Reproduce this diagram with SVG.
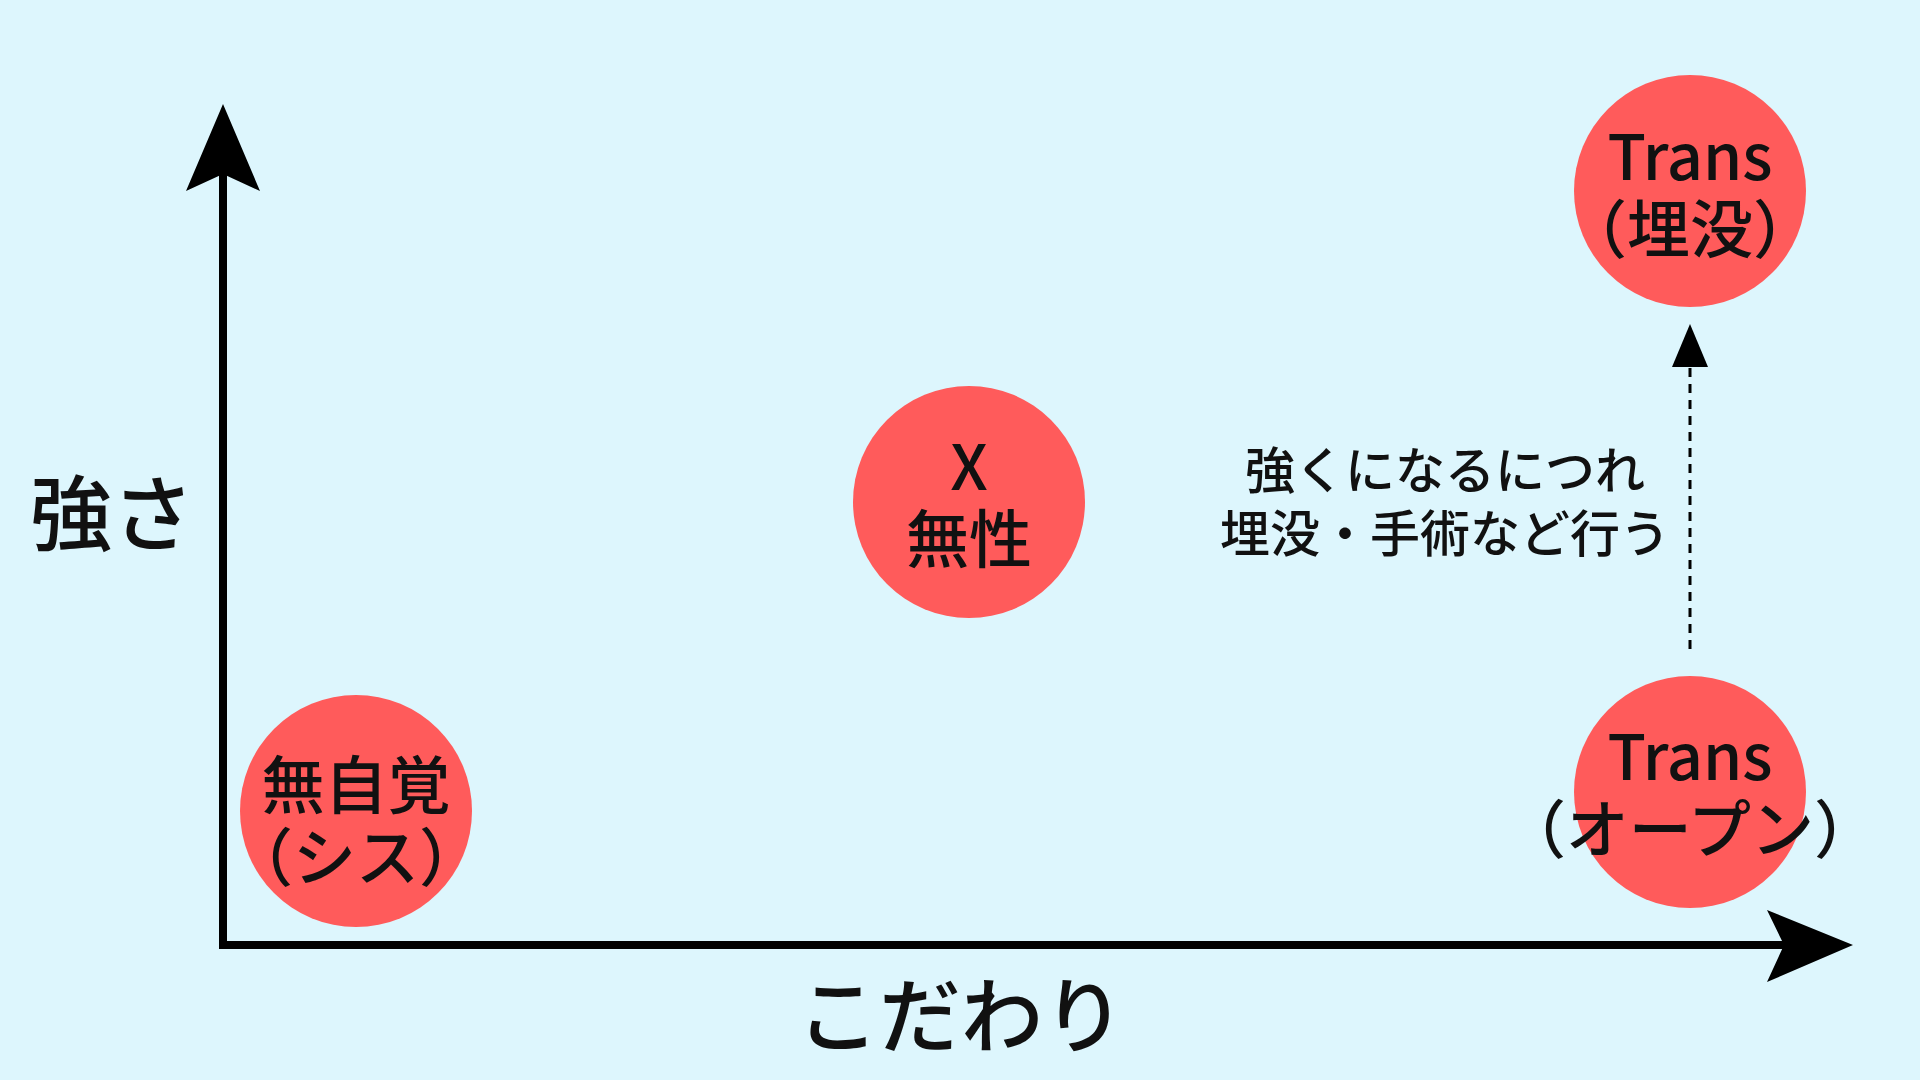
<svg xmlns="http://www.w3.org/2000/svg" width="1920" height="1080" viewBox="0 0 1920 1080">
<style>
.n{fill:#FF5B5B}
.t{font-family:"Noto Sans CJK JP","Noto Sans",sans-serif;font-weight:500;fill:#111;text-anchor:middle;dominant-baseline:central}
.lab{font-size:63px}
.ax{font-size:82px}
.note{font-size:50px}
</style>
<rect width="1920" height="1080" fill="#DDF6FD"/>
<g id="connectors">
<line x1="223" y1="947" x2="223" y2="170" stroke="#000" stroke-width="8"/>
<polygon points="223,104 186,191 223,174 260,191" fill="#000"/>
<line x1="219" y1="945" x2="1790" y2="945" stroke="#000" stroke-width="8"/>
<polygon points="1853,945 1767,910 1784,945 1767,982" fill="#000"/>
<line x1="1690" y1="649" x2="1690" y2="362" stroke="#000" stroke-width="3" stroke-dasharray="9,7"/>
<polygon points="1690,324 1672,367 1708,367" fill="#000"/>
</g>
<g id="n1"><circle class="n" cx="356" cy="811" r="116"/>
<text class="t lab" x="356" y="780">無自覚</text><text class="t lab" x="356" y="852">（シス）</text></g>
<g id="n2"><circle class="n" cx="969" cy="502" r="116"/>
<text class="t lab" x="969" y="462">X</text><text class="t lab" x="969" y="534">無性</text></g>
<g id="n3"><circle class="n" cx="1690" cy="191" r="116"/>
<text class="t lab" x="1690" y="152">Trans</text><text class="t lab" x="1690" y="224">（埋没）</text></g>
<g id="n4"><circle class="n" cx="1690" cy="792" r="116"/>
<text class="t lab" x="1690" y="752">Trans</text><text class="t lab" x="1690" y="824">（オープン）</text></g>
<text class="t ax" x="112" y="508">強さ</text>
<text class="t ax" x="961" y="1010">こだわり</text>
<text class="t note" x="1445" y="467">強くになるにつれ</text>
<text class="t note" x="1445" y="530">埋没・手術など行う</text>
</svg>
